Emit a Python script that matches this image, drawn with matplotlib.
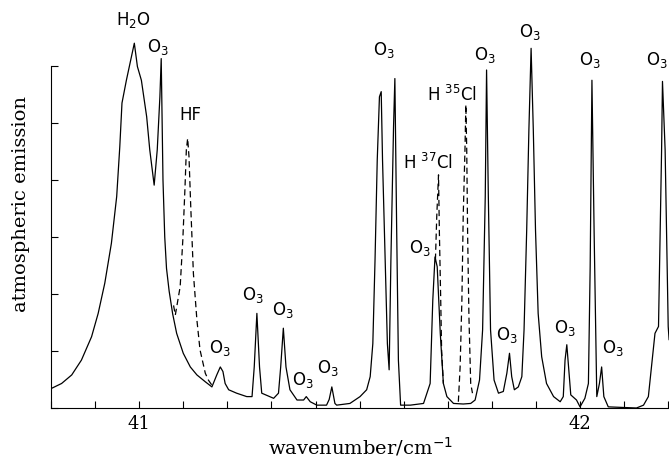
import numpy as np
import matplotlib.pyplot as plt

# solid trace: atmospheric emission spectrum
wn = [40.800, 40.824, 40.847, 40.869, 40.892, 40.907, 40.922, 40.937, 40.949, 40.956,
      40.961, 40.971, 40.989, 40.996, 41.005, 41.017, 41.024, 41.034, 41.041, 41.047,
      41.050, 41.054, 41.058, 41.062, 41.068, 41.076, 41.085, 41.100, 41.116, 41.131,
      41.150, 41.165, 41.176, 41.184, 41.190, 41.195, 41.203, 41.221, 41.244, 41.256,
      41.261, 41.267, 41.273, 41.278, 41.305, 41.316, 41.321, 41.327, 41.333, 41.342,
      41.358, 41.373, 41.379, 41.388, 41.403, 41.425, 41.431, 41.437, 41.444, 41.448,
      41.478, 41.501, 41.516, 41.524, 41.530, 41.535, 41.540, 41.545, 41.549, 41.552,
      41.558, 41.563, 41.567, 41.571, 41.577, 41.580, 41.584, 41.588, 41.593, 41.598,
      41.615, 41.645, 41.660, 41.666, 41.671, 41.676, 41.683, 41.690, 41.698, 41.713,
      41.735, 41.752, 41.762, 41.772, 41.779, 41.785, 41.788, 41.792, 41.797, 41.805,
      41.815, 41.826, 41.834, 41.840, 41.845, 41.851, 41.860, 41.868, 41.873, 41.879,
      41.884, 41.889, 41.894, 41.899, 41.905, 41.913, 41.924, 41.940, 41.955, 41.962,
      41.966, 41.970, 41.974, 41.979, 41.992, 42.000, 42.011, 42.019, 42.023, 42.027,
      42.032, 42.038, 42.044, 42.049, 42.054, 42.064, 42.128, 42.144, 42.155, 42.162,
      42.170, 42.178, 42.181, 42.185, 42.187, 42.193, 42.197, 42.200, 42.202]
emis = [0.34, 0.43, 0.58, 0.84, 1.25, 1.66, 2.19, 2.89, 3.71, 4.58,
        5.35, 5.75, 6.40, 5.99, 5.75, 5.11, 4.53, 3.91, 4.53, 5.46,
        6.13, 4.00, 3.00, 2.45, 2.05, 1.65, 1.31, 0.96, 0.72, 0.58,
        0.46, 0.37, 0.58, 0.72, 0.64, 0.43, 0.32, 0.26, 0.20, 0.20,
        0.72, 1.66, 0.72, 0.26, 0.17, 0.26, 0.72, 1.40, 0.72, 0.32,
        0.14, 0.14, 0.20, 0.11, 0.05, 0.05, 0.15, 0.37, 0.08, 0.05,
        0.08, 0.20, 0.32, 0.55, 1.13, 2.60, 4.35, 5.46, 5.55, 4.35,
        2.60, 1.13, 0.67, 2.60, 4.94, 5.78, 3.18, 0.84, 0.05, 0.05,
        0.05, 0.08, 0.43, 1.89, 2.65, 2.48, 1.31, 0.43, 0.20, 0.08,
        0.07, 0.08, 0.14, 0.49, 1.37, 3.71, 5.93, 3.71, 1.37, 0.49,
        0.26, 0.29, 0.61, 0.96, 0.55, 0.32, 0.37, 0.55, 1.37, 3.12,
        4.88, 6.31, 4.88, 3.12, 1.66, 0.90, 0.43, 0.20, 0.11, 0.20,
        0.84, 1.11, 0.72, 0.23, 0.14, 0.02, 0.17, 0.43, 2.48, 5.75,
        3.06, 0.20, 0.43, 0.72, 0.20, 0.02, 0.00, 0.05, 0.20, 0.72,
        1.31, 1.43, 2.77, 4.53, 5.73, 4.53, 2.77, 1.43, 1.20]

# dashed traces (HF, H37Cl, H35Cl)
hf_x = [41.078, 41.082, 41.093, 41.099, 41.104, 41.107, 41.110, 41.113, 41.117, 41.123,
        41.131, 41.138, 41.150, 41.157, 41.165]
hf_y = [1.80, 1.63, 2.13, 2.95, 3.88, 4.53, 4.73, 4.41, 3.53, 2.36,
        1.54, 1.02, 0.61, 0.49, 0.40]
h37_x = [41.672, 41.675, 41.679, 41.681, 41.684, 41.686, 41.690]
h37_y = [2.60, 3.36, 4.09, 3.06, 1.89, 1.02, 0.43]
h35_x = [41.724, 41.728, 41.732, 41.735, 41.739, 41.741, 41.743, 41.745, 41.748, 41.752, 41.756]
h35_y = [0.11, 0.72, 1.89, 3.36, 4.53, 5.32, 4.53, 3.06, 1.60, 0.43, 0.26]

# peak labels
lab_text = ["H$_2$O", "O$_3$", "HF", "O$_3$", "O$_3$", "O$_3$", "O$_3$", "O$_3$",
            "O$_3$", "O$_3$", "H $^{37}$Cl", "H $^{35}$Cl", "O$_3$", "O$_3$", "O$_3$",
            "O$_3$", "O$_3$", "O$_3$", "O$_3$"]
lab_x = [40.986, 41.043, 41.116, 41.184, 41.259, 41.327, 41.372, 41.429,
         41.554, 41.637, 41.655, 41.710, 41.785, 41.834, 41.887,
         41.966, 42.023, 42.075, 42.175]
lab_y = [6.80, 6.33, 5.14, 1.05, 1.98, 1.72, 0.49, 0.70,
         6.28, 2.81, 4.30, 5.49, 6.19, 1.28, 6.60,
         1.40, 6.10, 1.05, 6.10]

fig = plt.figure(figsize=(6.69, 4.62), dpi=100)
ax = fig.add_axes([51/669, 54/462, 618/669, 408/462])

ax.plot(wn, emis, color="black", lw=0.9)
for xs, ys in [(hf_x, hf_y), (h37_x, h37_y), (h35_x, h35_y)]:
    ax.plot(xs, ys, color="black", lw=0.9, linestyle=(0, (5, 3)))

for t, x, y in zip(lab_text, lab_x, lab_y):
    ax.text(x, y, t, ha="center", va="center", fontsize=12, family="DejaVu Sans")

ax.set_xlim(40.8, 42.2018)
ax.set_ylim(0, 408/57)
ax.spines["top"].set_visible(False)
ax.spines["right"].set_visible(False)
ax.spines["left"].set_bounds(0, 6)
ax.set_xticks([41, 42])
ax.set_xticklabels(["41", "42"], family="DejaVu Serif", fontsize=13)
ax.set_xticks(np.arange(40.8, 42.21, 0.1), minor=True)
ax.set_yticks(range(7))
ax.set_yticklabels([])
ax.tick_params(which="both", direction="in", length=5, width=0.8, pad=5)
ax.set_xlabel("wavenumber/cm$^{-1}$", family="DejaVu Serif", fontsize=14, labelpad=2)
ax.set_ylabel("atmospheric emission", family="DejaVu Serif", fontsize=14, labelpad=10)

plt.savefig("out.png", dpi=100)
